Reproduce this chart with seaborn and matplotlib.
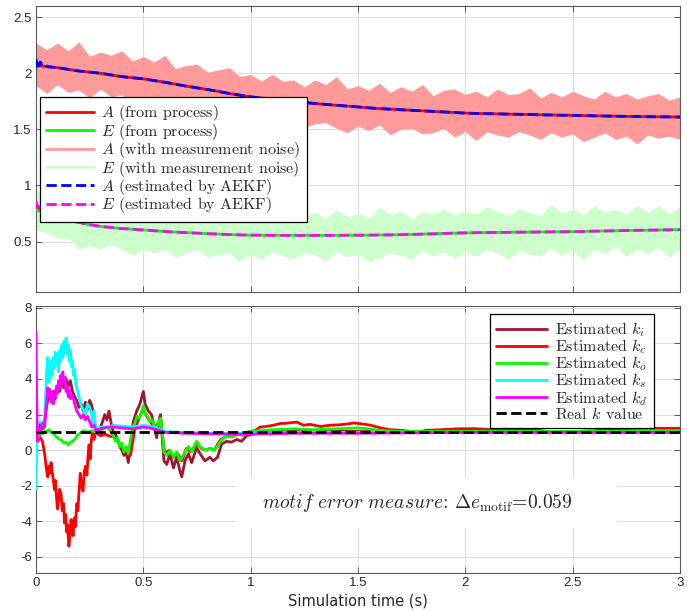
import numpy as np
import matplotlib
matplotlib.use("Agg")
import matplotlib.pyplot as plt
import seaborn as sns
from matplotlib.lines import Line2D
from matplotlib.patches import Rectangle

# ---------------- data: top panel (A and E) ----------------
t_meas = np.round(np.arange(61) * 0.05, 2)

A_proc = [2.070, 2.060, 2.050, 2.035, 2.020, 2.010, 2.000, 1.985, 1.970, 1.960,
          1.950, 1.935, 1.920, 1.903, 1.885, 1.870, 1.855, 1.838, 1.820, 1.805,
          1.790, 1.780, 1.770, 1.760, 1.750, 1.740, 1.730, 1.722, 1.715, 1.707,
          1.700, 1.692, 1.685, 1.680, 1.675, 1.670, 1.665, 1.660, 1.655, 1.650,
          1.645, 1.642, 1.640, 1.638, 1.636, 1.634, 1.632, 1.630, 1.628, 1.626,
          1.625, 1.623, 1.621, 1.619, 1.617, 1.616, 1.614, 1.613, 1.612, 1.611, 1.610]
E_proc = [0.780, 0.745, 0.715, 0.690, 0.670, 0.650, 0.635, 0.625, 0.615, 0.610,
          0.603, 0.596, 0.590, 0.584, 0.579, 0.575, 0.570, 0.566, 0.562, 0.559,
          0.557, 0.556, 0.555, 0.555, 0.555, 0.555, 0.555, 0.555, 0.555, 0.556,
          0.556, 0.557, 0.558, 0.559, 0.561, 0.563, 0.566, 0.569, 0.572, 0.575,
          0.577, 0.579, 0.580, 0.581, 0.582, 0.583, 0.584, 0.585, 0.586, 0.587,
          0.588, 0.590, 0.592, 0.594, 0.596, 0.598, 0.600, 0.601, 0.603, 0.604, 0.606]

A_noise_up = [2.27, 2.21, 2.27, 2.20, 2.28, 2.15, 2.19, 2.16, 2.20, 2.11,
              2.15, 2.10, 2.16, 2.04, 2.07, 2.08, 2.01, 2.03, 2.05, 1.97,
              1.99, 1.93, 1.99, 1.93, 1.94, 1.88, 1.94, 1.90, 1.97, 1.86,
              1.89, 1.85, 1.91, 1.83, 1.88, 1.84, 1.90, 1.80, 1.85, 1.86,
              1.81, 1.84, 1.79, 1.86, 1.81, 1.82, 1.87, 1.78, 1.83, 1.79,
              1.84, 1.80, 1.77, 1.84, 1.79, 1.82, 1.77, 1.80, 1.82, 1.76, 1.79]
A_noise_lo = [1.89, 1.82, 1.90, 1.83, 1.85, 1.78, 1.86, 1.79, 1.81, 1.71,
              1.78, 1.73, 1.77, 1.68, 1.70, 1.71, 1.62, 1.66, 1.67, 1.60,
              1.62, 1.55, 1.61, 1.56, 1.60, 1.52, 1.55, 1.56, 1.51, 1.47,
              1.53, 1.49, 1.54, 1.45, 1.50, 1.51, 1.46, 1.47, 1.51, 1.43,
              1.48, 1.40, 1.48, 1.45, 1.43, 1.48, 1.45, 1.41, 1.47, 1.43,
              1.46, 1.39, 1.43, 1.47, 1.41, 1.44, 1.37, 1.45, 1.42, 1.44, 1.41]
E_noise_up = [0.96, 0.90, 0.93, 0.88, 0.83, 0.85, 0.81, 0.85, 0.77, 0.79,
              0.81, 0.76, 0.79, 0.73, 0.82, 0.77, 0.74, 0.79, 0.71, 0.76,
              0.72, 0.77, 0.75, 0.70, 0.79, 0.73, 0.76, 0.71, 0.78, 0.72,
              0.75, 0.71, 0.81, 0.74, 0.77, 0.70, 0.76, 0.74, 0.79, 0.73,
              0.78, 0.74, 0.81, 0.77, 0.73, 0.79, 0.76, 0.73, 0.83, 0.75,
              0.79, 0.74, 0.82, 0.76, 0.79, 0.74, 0.82, 0.76, 0.82, 0.75, 0.81]
E_noise_lo = [0.60, 0.58, 0.53, 0.53, 0.43, 0.47, 0.43, 0.48, 0.43, 0.38,
              0.43, 0.40, 0.43, 0.36, 0.40, 0.43, 0.36, 0.38, 0.40, 0.32,
              0.39, 0.34, 0.41, 0.37, 0.35, 0.40, 0.38, 0.33, 0.41, 0.36,
              0.39, 0.32, 0.35, 0.40, 0.38, 0.34, 0.42, 0.37, 0.41, 0.35,
              0.41, 0.37, 0.43, 0.40, 0.34, 0.42, 0.39, 0.37, 0.44, 0.38,
              0.42, 0.34, 0.43, 0.39, 0.46, 0.37, 0.43, 0.39, 0.45, 0.36, 0.43]

# AEKF estimates: initial transient, then on top of the process curves
t_est_start = [0.0, 0.005, 0.01, 0.015, 0.02, 0.03, 0.04, 0.05]
A_est_start = [2.13, 2.06, 2.11, 2.07, 2.10, 2.08, 2.09, 2.06]
E_est_start = [0.86, 0.80, 0.84, 0.79, 0.81, 0.77, 0.76, 0.745]
t_est = list(t_est_start) + list(t_meas[2:])
A_est = A_est_start + A_proc[2:]
E_est = E_est_start + E_proc[2:]

top_labels = ["$A$ (from process)", "$E$ (from process)",
              "$A$ (with measurement noise)", "$E$ (with measurement noise)",
              "$A$ (estimated by AEKF)", "$E$ (estimated by AEKF)"]

# ---------------- data: bottom panel (k estimates) ----------------
t_ki = [0, 0.01, 0.02, 0.03, 0.04, 0.05, 0.06, 0.07, 0.08, 0.09,
        0.10, 0.11, 0.12, 0.13, 0.14, 0.15, 0.16, 0.17, 0.18, 0.19,
        0.20, 0.21, 0.22, 0.23, 0.24, 0.25, 0.26, 0.27, 0.28, 0.29,
        0.30, 0.31, 0.32, 0.33, 0.34, 0.35, 0.36, 0.37, 0.38, 0.39,
        0.40, 0.41, 0.42, 0.43,
        0.438, 0.453, 0.469, 0.484, 0.50, 0.508, 0.523, 0.538, 0.547, 0.562,
        0.575, 0.58, 0.589, 0.596, 0.609, 0.624, 0.64, 0.655, 0.671, 0.679,
        0.694, 0.71, 0.725, 0.748, 0.764, 0.787, 0.81, 0.826, 0.845, 0.865,
        0.888, 0.91, 0.935, 0.958, 0.98, 1.005, 1.03, 1.1, 1.3, 1.5,
        2.0, 2.5, 3.0]
k_i = [1.0, 0.5, 1.5, 1.2, 1.6, 2.5, 3.2, 2.8, 3.3, 2.9,
       3.6, 3.3, 3.9, 3.5, 4.0, 3.6, 3.9, 3.3, 3.0, 2.8,
       2.4, 2.6, 2.2, 2.7, 2.3, 2.8, 2.5, 1.8, 1.1, 0.9,
       1.3, 1.6, 2.0, 1.7, 2.2, 1.5, 1.0, 0.9, 0.6, 0.2,
       0.0, -0.3, -0.1, -0.7,
       0.15, 1.6, 2.2, 2.6, 3.3, 2.6, 2.2, 2.0, 1.5, 0.7,
       1.8, 2.0, 0.5, -0.6, -0.8, -0.2, -1.0, -0.4, -1.2, -1.5,
       -0.6, -0.2, -0.7, 0.15, -0.2, -0.6, -0.4, -0.6, -0.4, 0.35,
       0.5, 0.45, 0.6, 0.5, 0.8, 0.9, 1.0, 1.05, 1.08, 1.05,
       1.03, 1.02, 1.02]

t_kc = [0, 0.01, 0.02, 0.03, 0.04, 0.05, 0.055, 0.06, 0.065, 0.07,
        0.075, 0.08, 0.086, 0.09, 0.095, 0.10, 0.105, 0.11, 0.117, 0.122,
        0.128, 0.133, 0.138, 0.143, 0.148, 0.153, 0.158, 0.163, 0.168, 0.173,
        0.178, 0.183, 0.19, 0.195, 0.20, 0.206, 0.212, 0.219, 0.225, 0.231,
        0.237, 0.243, 0.247, 0.252, 0.258, 0.263, 0.27, 0.28, 0.30, 0.32,
        0.34, 0.36, 0.38, 0.40, 0.42, 0.44, 0.46, 0.48, 0.50, 0.52,
        0.55, 0.57, 0.58, 0.59, 0.60, 0.62, 0.64, 0.66, 0.68, 0.70,
        0.72, 0.75, 0.77, 0.79, 0.81, 0.83, 0.86, 0.89, 0.91, 0.94,
        0.96, 0.98, 1.0, 1.02, 1.044, 1.07, 1.106, 1.137, 1.17, 1.215,
        1.246, 1.277, 1.324, 1.37, 1.417, 1.45, 1.48, 1.51, 1.56, 1.605,
        1.65, 1.70, 1.745, 1.78, 1.82, 1.87, 1.96, 2.04, 2.12, 2.20,
        2.30, 2.41, 2.475, 2.55, 2.66, 2.82, 3.0]
k_c = [1.0, 1.1, 0.7, 0.5, -0.2, -1.2, -1.5, -0.9, -1.3, -0.7,
       -1.2, -1.6, -2.2, -1.7, -2.6, -3.3, -2.8, -2.2, -2.5, -3.4,
       -3.0, -4.1, -3.6, -4.6, -4.2, -5.4, -4.8, -3.9, -4.5, -4.8,
       -3.8, -4.3, -3.0, -3.4, -2.4, -1.3, -2.0, -2.3, -1.2, -0.9,
       -1.4, -0.2, 0.3, -0.5, 0.6, 1.0, 0.6, 1.1, 0.8, 0.9,
       0.8, 0.75, 0.6, 0.1, -0.2, -0.3, 1.2, 1.8, 2.3, 1.8,
       1.3, 1.5, 1.7, 0.7, -0.2, 0.0, -0.4, -0.2, -0.6, 0.1,
       -0.1, 0.4, 0.1, 0.0, 0.1, 0.0, 0.6, 0.8, 0.75, 0.9,
       0.85, 1.0, 1.05, 1.1, 1.3, 1.33, 1.4, 1.5, 1.52, 1.58,
       1.4, 1.45, 1.33, 1.4, 1.43, 1.47, 1.53, 1.49, 1.4, 1.25,
       1.15, 1.12, 1.05, 1.03, 1.12, 1.14, 1.2, 1.21, 1.16, 1.12,
       1.16, 1.3, 1.31, 1.25, 1.2, 1.23, 1.23]

t_ko = [0, 0.01, 0.02, 0.03, 0.04, 0.05, 0.06, 0.07, 0.08, 0.09,
        0.10, 0.11, 0.12, 0.13, 0.14, 0.15, 0.16, 0.17, 0.18, 0.19,
        0.20, 0.21, 0.22,
        0.24, 0.26, 0.28, 0.30, 0.32, 0.34, 0.36,
        0.37, 0.38, 0.39, 0.40, 0.41, 0.42, 0.43, 0.44, 0.45, 0.46,
        0.47, 0.48, 0.49, 0.50, 0.51, 0.52, 0.53, 0.54, 0.55, 0.56,
        0.57, 0.58, 0.59,
        0.596, 0.61, 0.625, 0.64, 0.655, 0.67, 0.68, 0.694, 0.71, 0.725,
        0.748, 0.764, 0.787, 0.81, 0.826, 0.845, 0.865, 0.888, 0.91, 0.935,
        0.958, 0.98, 1.0, 1.05, 1.1, 1.2, 1.3, 1.4, 1.5, 1.55,
        1.6, 1.7, 2.0, 2.5, 3.0]
k_o = [1.0, 0.6, 1.1, 0.9, 1.1, 1.0, 1.15, 1.0, 0.95, 0.8,
       0.7, 0.6, 0.55, 0.4, 0.45, 0.3, 0.45, 0.5, 0.6, 0.8,
       0.9, 1.0, 1.1,
       1.0, 1.1, 1.0, 1.1, 1.25, 1.2, 0.8,
       0.5, 0.7, 0.2, 0.4, -0.1, 0.2, -0.2, 0.6, 1.3, 1.5,
       1.9, 1.8, 2.1, 2.5, 2.0, 1.9, 1.6, 1.7, 1.4, 1.1,
       1.6, 1.8, 0.8,
       -0.1, -0.3, 0.0, -0.4, -0.1, -0.6, -0.4, -0.1, 0.2, -0.1,
       0.5, 0.2, 0.0, 0.1, 0.0, 0.2, 0.6, 0.8, 0.75, 0.9,
       0.85, 1.0, 1.05, 1.1, 1.15, 1.2, 1.15, 1.2, 1.25, 1.2,
       1.1, 1.05, 1.05, 1.05, 1.05]

t_ks = [0, 0.004, 0.008, 0.02, 0.03, 0.04,
        0.05, 0.055, 0.06, 0.065, 0.07, 0.075, 0.08, 0.085, 0.09, 0.095,
        0.10, 0.105, 0.11, 0.115, 0.12, 0.125, 0.13, 0.135, 0.14, 0.145,
        0.15, 0.155, 0.16, 0.165, 0.17, 0.175, 0.18, 0.185, 0.19,
        0.20, 0.21, 0.22, 0.23, 0.24, 0.25, 0.26,
        0.265, 0.27, 0.275, 0.28,
        0.30, 0.33, 0.36, 0.40, 0.45, 0.50, 0.55, 0.60, 0.70, 0.80,
        0.90, 1.0, 1.2, 3.0]
k_s = [-2.2, 0.5, 1.5, 1.6, 1.4, 1.8,
       4.5, 5.2, 3.8, 4.5, 5.0, 4.2, 5.2, 4.6, 5.5, 4.8,
       5.4, 4.4, 5.6, 5.0, 5.9, 5.2, 6.1, 5.5, 6.3, 5.4,
       5.9, 5.0, 5.6, 4.7, 5.0, 4.2, 4.5, 3.7, 3.5,
       3.0, 2.5, 2.3, 2.0, 2.6, 2.4, 2.0,
       1.4, 2.2, 1.5, 1.2,
       1.3, 1.25, 1.4, 1.35, 1.3, 1.4, 1.3, 1.05, 1.0, 0.95,
       0.95, 0.95, 1.0, 1.0]

t_kd = [0, 0.003, 0.006, 0.01, 0.02, 0.03, 0.04,
        0.045, 0.05, 0.055, 0.06, 0.065, 0.07, 0.075, 0.08, 0.085, 0.09,
        0.095, 0.10, 0.105, 0.11, 0.115, 0.12, 0.125, 0.13, 0.135, 0.14,
        0.145, 0.15, 0.155,
        0.16, 0.17, 0.18, 0.19, 0.20, 0.21, 0.22, 0.23, 0.24, 0.25,
        0.26, 0.27, 0.28,
        0.30, 0.33, 0.36, 0.40, 0.45, 0.50, 0.55, 0.60, 0.70, 0.80,
        0.90, 1.0, 1.2, 1.5, 1.8, 2.0, 3.0]
k_d = [6.6, 3.0, 0.5, 1.3, 1.0, 1.5, 1.3,
       2.2, 2.8, 3.5, 3.0, 3.4, 2.7, 3.2, 2.6, 3.3, 3.0,
       3.6, 3.2, 3.9, 3.5, 4.2, 3.8, 4.4, 3.7, 4.1, 3.3,
       3.6, 3.0, 3.4,
       2.9, 3.1, 2.6, 2.2, 2.0, 1.8, 2.0, 1.7, 1.9, 1.6,
       1.3, 1.4, 1.1,
       1.2, 1.3, 1.3, 1.25, 1.2, 1.3, 1.2, 1.0, 0.95, 0.92,
       0.9, 0.9, 0.95, 0.95, 0.98, 1.0, 1.0]

t_real = [0, 3]
k_real = [1.0, 1.0]

bottom_labels = ["Estimated $k_i$", "Estimated $k_c$", "Estimated $k_o$",
                 "Estimated $k_s$", "Estimated $k_d$", "Real $k$ value"]
error_value = 0.059

top_yticks = [0.5, 1, 1.5, 2, 2.5]
top_yticklabels = ["0.5", "1", "1.5", "2", "2.5"]
bot_yticks = [-6, -4, -2, 0, 2, 4, 6, 8]
bot_yticklabels = ["-6", "-4", "-2", "0", "2", "4", "6", "8"]
xticks = [0, 0.5, 1, 1.5, 2, 2.5, 3]
xticklabels = ["0", "0.5", "1", "1.5", "2", "2.5", "3"]

# ---------------- style ----------------
sns.set_style("ticks")
plt.rcParams["font.family"] = ["Liberation Sans", "DejaVu Sans"]
plt.rcParams["mathtext.fontset"] = "cm"

C_RED, C_GRN = "#FF0000", "#00FF00"
C_RED_N, C_GRN_N = "#FF9A9A", "#CCFFCC"
C_BLUE, C_MAG = "#0000FF", "#FF00FF"
C_KI, C_CYAN = "#A2142F", "#00FFFF"
LW = 2.0
LEG_FONT = {"family": "cmr10", "size": 11.5}

fig = plt.figure(figsize=(6.94, 6.12), dpi=100)
ax1 = fig.add_axes([0.0519, 0.5229, 0.928, 0.4673])
ax2 = fig.add_axes([0.0519, 0.0637, 0.928, 0.4363])


def style_axes(ax):
    ax.set_axisbelow(True)
    ax.grid(True, color="#DEDEDE", linewidth=0.8)
    for s in ax.spines.values():
        s.set_visible(True)
        s.set_color("#5A5A5A")
        s.set_linewidth(0.8)
    ax.tick_params(direction="in", top=True, right=True, length=4,
                   width=0.7, color="#5A5A5A", labelsize=9.5,
                   labelcolor="#262626", pad=3)
    ax.set_xlim(0, 3)
    ax.set_xticks(xticks)


def line(ax, x, y, color, ls="-", z=3):
    sns.lineplot(x=x, y=y, ax=ax, color=color, linewidth=LW, linestyle=ls,
                 estimator=None, sort=False, legend=False, zorder=z)


# ---- top panel ----
style_axes(ax1)
ax1.fill_between(t_meas, A_noise_lo, A_noise_up, color=C_RED_N, linewidth=0,
                 zorder=2)
ax1.fill_between(t_meas, E_noise_lo, E_noise_up, color=C_GRN_N, linewidth=0,
                 zorder=2)
line(ax1, t_meas, A_proc, C_RED, z=3)
line(ax1, t_meas, E_proc, C_GRN, z=3)
line(ax1, t_est, A_est, C_BLUE, ls="--", z=4)
line(ax1, t_est, E_est, C_MAG, ls="--", z=4)
ax1.set_ylim(0.05, 2.6)
ax1.set_yticks(top_yticks)
ax1.set_yticklabels(top_yticklabels)
ax1.set_xticklabels([])
ax1.set_xlabel("")
ax1.set_ylabel("")

top_handles = [Line2D([], [], color=C_RED, lw=LW),
               Line2D([], [], color=C_GRN, lw=LW),
               Line2D([], [], color=C_RED_N, lw=LW),
               Line2D([], [], color=C_GRN_N, lw=LW),
               Line2D([], [], color=C_BLUE, lw=LW, ls="--"),
               Line2D([], [], color=C_MAG, lw=LW, ls="--")]
leg1 = ax1.legend(top_handles, top_labels, loc="upper left",
                  bbox_to_anchor=(0.006, 0.682), borderaxespad=0,
                  prop=LEG_FONT, frameon=True,
                  fancybox=False, edgecolor="black", framealpha=1,
                  handlelength=3.0, handletextpad=0.45, labelspacing=-0.1,
                  borderpad=0.4)
leg1.get_frame().set_linewidth(0.9)
leg1.set_zorder(10)

# ---- bottom panel ----
style_axes(ax2)
line(ax2, t_ki, k_i, C_KI, z=3)
line(ax2, t_kc, k_c, C_RED, z=3.1)
line(ax2, t_ko, k_o, C_GRN, z=3.2)
line(ax2, t_ks, k_s, C_CYAN, z=3.3)
line(ax2, t_kd, k_d, C_MAG, z=3.4)
line(ax2, t_real, k_real, "black", ls="--", z=3.5)
ax2.set_ylim(-6.9, 8.1)
ax2.set_yticks(bot_yticks)
ax2.set_yticklabels(bot_yticklabels)
ax2.set_xticklabels(xticklabels)
ax2.set_ylabel("")
ax2.set_xlabel("Simulation time (s)", fontsize=10.5, family="DejaVu Sans",
               color="#262626", labelpad=3)

bot_handles = [Line2D([], [], color=c, lw=LW) for c in
               [C_KI, C_RED, C_GRN, C_CYAN, C_MAG]] + \
              [Line2D([], [], color="black", lw=LW, ls="--")]
leg2 = ax2.legend(bot_handles, bottom_labels, loc="upper right",
                  bbox_to_anchor=(0.96, 0.97), borderaxespad=0,
                  prop=LEG_FONT, frameon=True,
                  fancybox=False, edgecolor="black", framealpha=1,
                  handlelength=3.2, handletextpad=0.5, labelspacing=-0.1,
                  borderpad=0.4)
leg2.get_frame().set_linewidth(0.9)
leg2.set_zorder(10)

ax2.add_patch(Rectangle((0.309, 0.169), 0.593, 0.187, transform=ax2.transAxes,
                        facecolor="white", edgecolor="none", zorder=1.5))
ax2.text(0.592, 0.262,
         r"$\mathit{motif\ error\ measure}$: $\Delta e_{\mathrm{motif}}$="
         + f"{error_value:.3f}",
         transform=ax2.transAxes, ha="center", va="center", fontsize=14,
         family="cmr10", zorder=2)

fig.savefig("out.png", dpi=100)
